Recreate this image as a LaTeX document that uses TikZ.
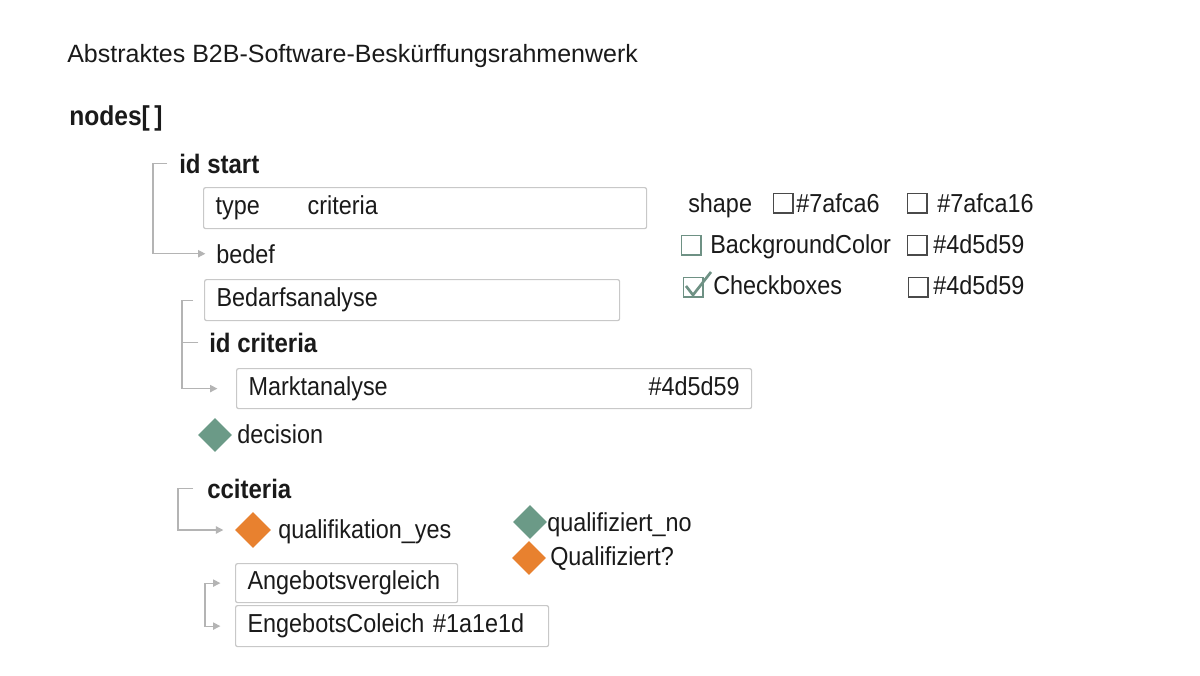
\documentclass[tikz,border=0pt]{standalone}
\usepackage{fontspec}
\setmainfont{Liberation Sans}[FakeStretch=0.9]
\newfontfamily\titlefont{Liberation Sans}
\usetikzlibrary{arrows.meta,shapes.geometric,calc}
\definecolor{boxline}{HTML}{C8C8C8}
\definecolor{connc}{HTML}{B4B4B4}
\definecolor{dgreen}{HTML}{6B9A87}
\definecolor{dorange}{HTML}{E8812F}
\definecolor{cbgray}{HTML}{4A4A4A}
\definecolor{cbgreen}{HTML}{6E9184}
\definecolor{txt}{HTML}{1A1A1A}
\begin{document}
\begin{tikzpicture}[x=0.75pt,y=-0.75pt,
 every node/.style={text=txt, font=\fontsize{19.5}{23}\selectfont},
 lbl/.style={anchor=base west, inner sep=0pt},
 head/.style={lbl, font=\fontsize{20}{24}\selectfont\bfseries},
 box/.style={draw=boxline, line width=0.9pt, rounded corners=1.5pt, anchor=north west, inner xsep=9pt, inner ysep=0pt, align=left},
 link/.style={draw=connc, line width=0.9pt, -{Triangle[length=5.5pt,width=5.5pt]}},
 plain/.style={draw=connc, line width=0.9pt},
 dia/.style={diamond, minimum width=25.5pt, minimum height=25.5pt, inner sep=0pt},
 cb/.style={draw=cbgray, line width=0.9pt, minimum size=14.5pt, inner sep=0pt, anchor=north west},
]
\useasboundingbox[fill=white] (0,0) rectangle (1200,675);

% titles
\node[lbl, font=\titlefont\fontsize{18.75}{22}\selectfont] (title) at (67,62) {Abstraktes B2B-Software-Beskürffungsrahmenwerk};
\node[lbl, font=\fontsize{20.5}{24}\selectfont\bfseries] (nodes) at (69,125) {nodes[\,]};

% tree
\node[head] (idstart) at (179,173) {id start};
\node[box, text width=314.25pt, minimum height=30.75pt] (typebox) at (203,187) {\makebox[69pt][l]{type}criteria};
\node[lbl] (bedef) at (216,263) {bedef};
\node[box, text width=293.25pt, minimum height=30.75pt] (bedarf) at (204,279) {Bedarfsanalyse};
\node[head] (idcrit) at (209,352) {id criteria};
\node[box, text width=368.25pt, minimum height=30pt] (markt) at (236,368) {Marktanalyse\hfill\#4d5d59};
\node[dia, fill=dgreen] (decd) at (215,435) {};
\node[lbl] (dect) at (237,443) {decision};
\node[head] (ccrit) at (207,498) {cciteria};
\node[dia, fill=dorange, minimum width=27pt, minimum height=27pt] (qyesd) at (253,530) {};
\node[lbl] (qyest) at (278,538) {qualifikation\_yes};
\node[dia, fill=dgreen] (qnod) at (530,522) {};
\node[lbl] (qnot) at (547,531) {qualifiziert\_no};
\node[dia, fill=dorange] (qqd) at (529,558) {};
\node[lbl] (qqt) at (550,565) {Qualifiziert?};
\node[box, text width=148.5pt, minimum height=29.25pt] (angebot) at (235,563) {Angebotsvergleich};
\node[box, text width=216.75pt, minimum height=30.75pt] (engebot) at (235,605) {EngebotsColeich \#1a1e1d};

% connectors
\draw[link] ([xshift=-9pt]idstart.west) -- ++(-14,0) |- ([xshift=-8pt]bedef.west);
\draw[link] ([xshift=-8.25pt]bedarf.west) -- ++(-11,0) |- ([xshift=-14pt]markt.west);
\draw[plain] ([xshift=-8pt]idcrit.west) -- ++(-16,0);
\draw[link] ([xshift=-10.5pt]ccrit.west) -- ++(-15,0) |- ([xshift=-8.6pt]qyesd.west);
\coordinate (b4) at ($(angebot.west)!0.5!(engebot.west)+(-30,0)$);
\draw[link] (b4) |- ([xshift=-11pt]angebot.west);
\draw[link] (b4) |- ([xshift=-11pt]engebot.west);

% right panel
\node[lbl] (shape) at (688,212) {shape};
\node[cb] (cb1) at (773,193) {};
\node[lbl] (c1) at (796,212) {\#7afca6};
\node[cb] (cb2) at (907,193) {};
\node[lbl] (c2) at (937,212) {\#7afca16};
\node[cb, draw=cbgreen] (cb3) at (681,235) {};
\node[lbl] (bg) at (710,253) {BackgroundColor};
\node[cb] (cb4) at (907,235) {};
\node[lbl] (c4) at (933,253) {\#4d5d59};
\node[cb, draw=cbgreen] (cb5) at (683,277) {};
\draw[cbgreen, line width=2pt] (686,286) -- (693,295) -- (711,272);
\node[lbl] (chk) at (713,294) {Checkboxes};
\node[cb] (cb6) at (908,277) {};
\node[lbl] (c6) at (933,294) {\#4d5d59};
\end{tikzpicture}
\end{document}
